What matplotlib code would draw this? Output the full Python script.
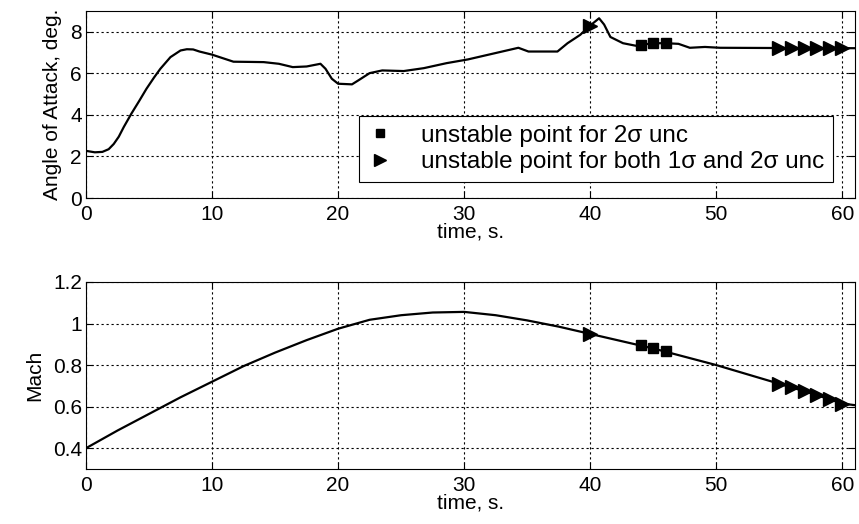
import numpy as np
import matplotlib
matplotlib.use('Agg')
import matplotlib.pyplot as plt

plt.rcParams['font.family'] = ['Liberation Sans', 'DejaVu Sans']

# Angle of attack trace
t_aoa = [0, 0.7, 1.3, 1.8, 2.2, 2.6, 3.0, 3.6, 4.2, 4.8, 5.4, 5.9, 6.7, 7.5, 8.0, 8.5, 9.0,
         10.0, 11.0, 11.7, 13.0, 14.1, 15.3, 16.4, 17.5, 18.6, 19.0, 19.5, 20.0,
         21.1, 21.6, 22.5, 23.5, 25.2, 26.8, 28.6, 30.3, 32.3, 34.3, 35.1, 37.4,
         38.2, 39.2, 40.0, 40.7, 41.1, 41.6, 42.6, 43.6, 44.0, 45.0, 46.0, 47.0,
         47.9, 49.1, 50.3, 54.3, 61.0]
aoa = [2.27, 2.2, 2.22, 2.35, 2.6, 2.95, 3.42, 4.06, 4.65, 5.26, 5.8, 6.22, 6.78, 7.1, 7.16, 7.15, 7.05,
       6.9, 6.7, 6.56, 6.55, 6.54, 6.46, 6.3, 6.33, 6.46, 6.22, 5.74, 5.5,
       5.47, 5.66, 6.01, 6.14, 6.11, 6.25, 6.49, 6.67, 6.95, 7.23, 7.05, 7.05,
       7.45, 7.85, 8.3, 8.65, 8.35, 7.75, 7.45, 7.33, 7.37, 7.45, 7.45, 7.42,
       7.23, 7.27, 7.23, 7.22, 7.21]

# Mach trace
t_mach = [0, 2.5, 5, 7.5, 10, 12.5, 15, 17.5, 20, 22.5, 25, 27.5, 30, 32.5,
          35, 37.5, 40, 42.5, 45, 47.5, 50, 52.5, 55, 57.5, 60, 61]
mach = [0.40, 0.485, 0.565, 0.645, 0.72, 0.795, 0.86, 0.92, 0.975, 1.018, 1.04,
        1.053, 1.056, 1.04, 1.015, 0.985, 0.95, 0.915, 0.88, 0.84, 0.80, 0.755,
        0.71, 0.665, 0.615, 0.607]

# unstable points
t_sq = [44, 45, 46]
aoa_sq = [7.37, 7.45, 7.45]
mach_sq = [0.895, 0.882, 0.867]

t_tri = [40, 55, 56, 57, 58, 59, 60]
aoa_tri = [8.3, 7.22, 7.22, 7.22, 7.22, 7.22, 7.21]
mach_tri = [0.95, 0.71, 0.694, 0.674, 0.658, 0.638, 0.615]

fs = 15

fig = plt.figure(figsize=(8.59, 5.24), dpi=100)
ax1 = fig.add_axes([0.1001, 0.6221, 0.8952, 0.3569])
ax2 = fig.add_axes([0.1001, 0.1050, 0.8952, 0.3569])


def style(ax):
    ax.grid(True, color='black', linestyle=(0, (2, 2.5)), linewidth=0.8)
    ax.set_axisbelow(True)
    ax.tick_params(direction='in', top=True, right=True, labelsize=fs,
                   length=5, width=0.8)
    ax.tick_params(axis='x', pad=5)
    ax.tick_params(axis='y', pad=3)
    for s in ax.spines.values():
        s.set_linewidth(0.8)
    ax.set_xlim(0, 61)
    ax.set_xticks([0, 10, 20, 30, 40, 50, 60])
    ax.set_xlabel('time, s.', fontsize=fs, labelpad=-1)


ax1.plot(t_aoa, aoa, color='black', lw=1.6)
ax1.plot(t_sq, aoa_sq, 's', color='black', ms=7.5, label='unstable point for 2σ unc')
ax1.plot(t_tri, aoa_tri, '>', color='black', ms=9.5,
         label='unstable point for both 1σ and 2σ unc')
style(ax1)
ax1.set_ylim(0, 9)
ax1.set_yticks([0, 2, 4, 6, 8])
ax1.set_ylabel('Angle of Attack, deg.', fontsize=fs, labelpad=6)
leg = ax1.legend(loc='lower right', bbox_to_anchor=(0.971, 0.086), fontsize=17.5,
                 frameon=True, fancybox=False, edgecolor='black', framealpha=1,
                 handlelength=1.0, handletextpad=1.2, borderpad=0.35,
                 labelspacing=0.2, borderaxespad=0, markerscale=0.85)
leg.get_frame().set_linewidth(0.8)

ax2.plot(t_mach, mach, color='black', lw=1.6)
ax2.plot(t_sq, mach_sq, 's', color='black', ms=7.5)
ax2.plot(t_tri, mach_tri, '>', color='black', ms=9.5)
style(ax2)
ax2.set_ylim(0.3, 1.2)
ax2.set_yticks([0.4, 0.6, 0.8, 1.0, 1.2])
ax2.set_yticklabels(['0.4', '0.6', '0.8', '1', '1.2'])
ax2.set_ylabel('Mach', fontsize=fs, labelpad=6)

fig.savefig('out.png', dpi=100)
